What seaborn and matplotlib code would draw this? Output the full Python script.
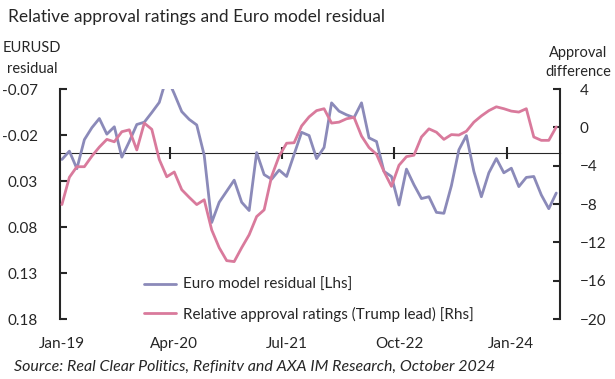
import numpy as np
import pandas as pd
import matplotlib
matplotlib.use("Agg")
import matplotlib.pyplot as plt
import seaborn as sns

# monthly data Jan-19 .. Jul-24
residual = [0.0065, -0.0025, 0.0165, -0.015, -0.028, -0.038, -0.021, -0.029, 0.004, -0.013,
            -0.0315, -0.034, -0.0445, -0.0555, -0.083, -0.065, -0.0455, -0.037, -0.031, 0.002,
            0.075, 0.053, 0.041, 0.029, 0.053, 0.062, -0.001, 0.023, 0.028, 0.018,
            0.025, 0.001, -0.023, -0.0195, 0.0055, -0.0065, -0.055, -0.046, -0.042, -0.039,
            -0.055, -0.017, -0.013, 0.0195, 0.025, 0.056, 0.017, 0.034, 0.049, 0.047,
            0.064, 0.065, 0.035, -0.004, -0.0195, 0.0195, 0.047, 0.021, 0.0055, 0.021,
            0.016, 0.036, 0.026, 0.025, 0.045, 0.060, 0.043]
approval = [-8.05, -5.2, -4.1, -4.1, -3.0, -2.05, -1.25, -1.5, -0.45, -0.25,
            -2.35, 0.45, -0.2, -3.35, -5.15, -4.65, -6.5, -7.3, -8.05, -7.55,
            -10.7, -12.55, -13.9, -14.0, -12.55, -11.2, -9.3, -8.6, -5.1, -3.0,
            -1.65, -1.6, 0.15, 1.1, 1.75, 1.95, 0.45, 0.55, 0.9, 1.05,
            -0.9, -2.1, -2.8, -4.6, -6.15, -3.95, -3.05, -2.9, -1.0, -0.15,
            -0.5, -1.25, -0.75, -0.8, -0.4, 0.55, 1.2, 1.75, 2.15, 1.95,
            1.7, 1.6, 1.95, -1.0, -1.35, -1.35, 0.05]
month = list(range(len(residual)))

xtick_pos = [0, 15, 30, 45, 60]
xtick_labels = ["Jan-19", "Apr-20", "Jul-21", "Oct-22", "Jan-24"]
left_ticks = [-0.07, -0.02, 0.03, 0.08, 0.13, 0.18]
right_ticks = [4, 0, -4, -8, -12, -16, -20]

df = pd.DataFrame({"month": month, "residual": residual, "approval": approval})

sns.set_style("white")
plt.rcParams["font.family"] = ["Lato", "DejaVu Sans"]

blue = "#8b8ab9"
pink = "#d97a9c"

fig = plt.figure(figsize=(6.15, 3.79), dpi=100)
ax = fig.add_axes([0.0976, 0.158, 0.813, 0.607])
ax2 = ax.twinx()

sns.lineplot(data=df, x="month", y="residual", ax=ax, color=blue, linewidth=2.0,
             label="Euro model residual [Lhs]", legend=False)
sns.lineplot(data=df, x="month", y="approval", ax=ax2, color=pink, linewidth=2.0,
             label="Relative approval ratings (Trump lead) [Rhs]", legend=False)

ax.set_xlim(-0.25, 66.5)
ax.set_ylim(0.18, -0.07)
ax2.set_ylim(-20, 4)
ax.set_yticks(left_ticks)
ax.set_yticklabels(["{:.2f}".format(t) for t in left_ticks])
ax2.set_yticks(right_ticks)
ax.set_xticks(xtick_pos)
ax.set_xticklabels(xtick_labels)
ax.set_xlabel("")
ax.set_ylabel("")
ax2.set_ylabel("")

for a in (ax, ax2):
    a.spines["top"].set_visible(False)
    a.spines["bottom"].set_visible(False)
    a.grid(False)
ax.spines["left"].set_linewidth(1.5)
ax.spines["right"].set_visible(False)
ax2.spines["left"].set_visible(False)
ax2.spines["right"].set_linewidth(1.5)

ax.tick_params(axis="y", direction="in", length=5, width=1.5, labelsize=11, pad=16)
ax2.tick_params(axis="y", direction="in", length=5, width=1.5, labelsize=11, pad=14)
ax.tick_params(axis="x", length=0, labelsize=11, pad=13)

# zero line for the residual, with month ticks crossing it
zero_frac = (ax.get_ylim()[0] - 0) / (ax.get_ylim()[0] - ax.get_ylim()[1])
sec = ax.secondary_xaxis(zero_frac)
sec.set_xticks([p - 0.6 for p in xtick_pos[1:]])
sec.set_xticklabels([])
sec.tick_params(direction="inout", length=8, width=1.5)
sec.spines["bottom"].set_linewidth(1.5)

h1, l1 = ax.get_legend_handles_labels()
h2, l2 = ax2.get_legend_handles_labels()
ax2.legend(h1 + h2, l1 + l2, loc="upper left", bbox_to_anchor=(0.155, 0.205),
           frameon=False, fontsize=11, handlelength=2.1, handletextpad=0.45,
           labelspacing=0.95, borderaxespad=0)

fig.text(0.013, 0.955, "Relative approval ratings and Euro model residual",
         fontsize=12.5, va="center", ha="left")
fig.text(0.052, 0.845, "EURUSD\nresidual", fontsize=10.5, ha="center", va="center",
         linespacing=1.6)
fig.text(0.94, 0.835, "Approval\ndifference", fontsize=10.5, ha="center", va="center",
         linespacing=1.4)
fig.text(0.022, 0.032, "Source: Real Clear Politics, Refinitv and AXA IM Research, October 2024",
         fontsize=11.5, style="italic", ha="left", va="center")

fig.savefig("out.png", dpi=100)
